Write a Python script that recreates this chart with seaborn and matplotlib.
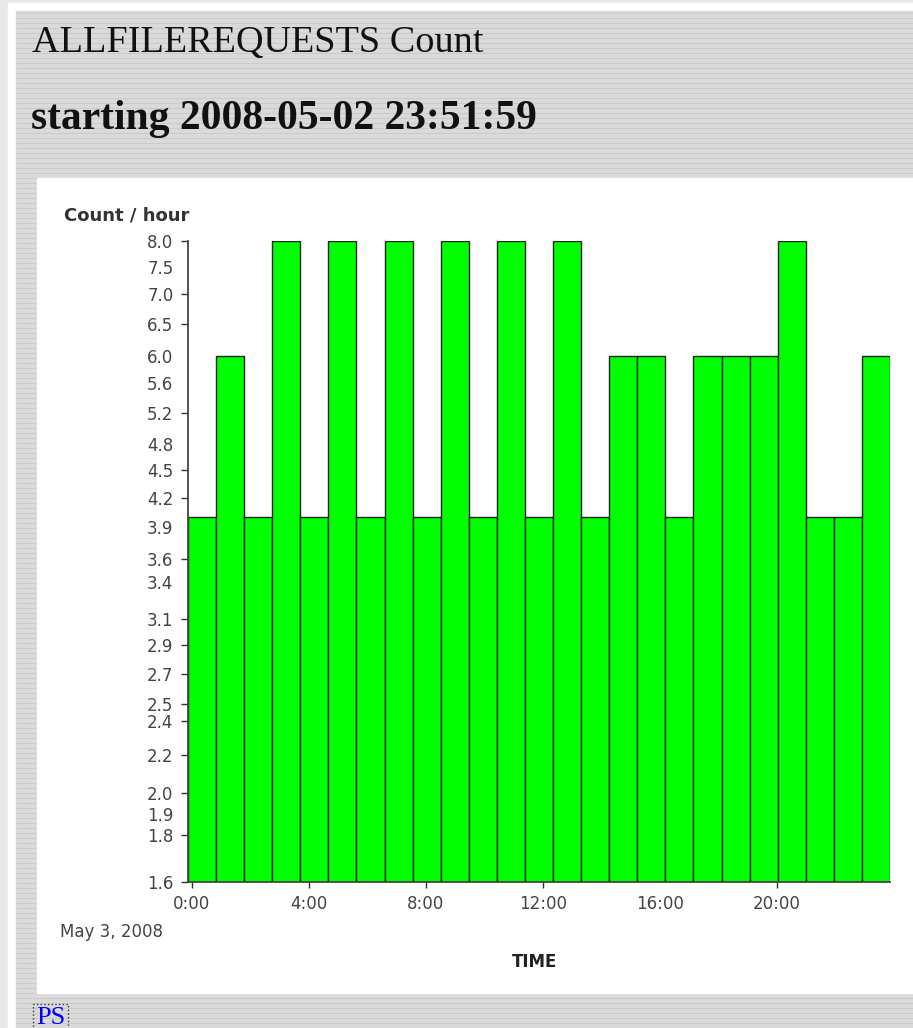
import matplotlib

matplotlib.use("Agg")
import matplotlib.pyplot as plt
import numpy as np
import pandas as pd
import seaborn as sns
from matplotlib.patches import Rectangle
from matplotlib.ticker import NullLocator

# Request counts per bin, 25 bins over 24 hours from the start time
start_hour = -(8 * 60 - 1) / 3600  # 23:51:59 on May 2, hours from midnight May 3
span_hours = 24
counts = [4, 6, 4, 8, 4, 8, 4, 8, 4, 8, 4, 8, 4, 8, 4, 6, 6, 4, 6, 6, 6, 8, 4, 4, 6]

x_tick_hours = [0, 4, 8, 12, 16, 20]
x_tick_labels = ["0:00", "4:00", "8:00", "12:00", "16:00", "20:00"]
# y ticks drawn with a mark, and the ones that only carry a label
y_marked = [8.0, 7.0, 6.5, 5.2, 4.5, 4.2, 3.6, 3.1, 2.9, 2.7, 2.5, 2.4, 2.2, 2.0, 1.8, 1.6]
y_unmarked = [7.5, 6.0, 5.6, 4.8, 3.9, 3.4, 1.9]

title = "ALLFILEREQUESTS Count"
subtitle = "starting 2008-05-02 23:51:59"

n_bins = len(counts)
bin_w = span_hours / n_bins
df = pd.DataFrame(
    {"hour": start_hour + (np.arange(n_bins) + 0.5) * bin_w, "count": counts}
)

sns.set_style("ticks")
plt.rcParams["font.family"] = ["DejaVu Sans"]

fig = plt.figure(figsize=(9.13, 10.28), dpi=100)
fig.patch.set_facecolor("#e8e8e8")

# page background in pixel coords
bg = fig.add_axes([0, 0, 1, 1])
bg.set_zorder(-1)
bg.set_xlim(0, 913)
bg.set_ylim(1028, 0)
bg.axis("off")
bg.add_patch(Rectangle((0, 0), 913, 1028, color="#e8e8e8", zorder=0))
bg.add_patch(Rectangle((8, 3), 905, 1025, color="white", zorder=1))
bg.add_patch(Rectangle((16, 11), 897, 1017, color="#dadada", zorder=2))
bg.hlines(np.arange(13, 1028, 5), 16, 913, color="#cbcbcb", lw=0.8, zorder=3)
bg.add_patch(Rectangle((37, 178), 876, 815, color="white", zorder=4))

serif = ["Liberation Serif", "DejaVu Serif"]
bg.text(32, 52, title, fontfamily=serif, fontsize=27.5, color="#111111",
        va="baseline", zorder=5)
bg.text(31, 129, subtitle, fontfamily=serif, fontsize=30, fontweight="bold",
        color="#111111", va="baseline", zorder=5)
bg.text(64, 220, "Count / hour", fontsize=13, fontweight="bold", color="#333333",
        va="baseline", zorder=5)
bg.text(60, 937, "May 3, 2008", fontsize=12, color="#444444", va="baseline", zorder=5)
bg.text(512, 967, "TIME", fontsize=12, fontweight="bold", color="#222222",
        va="baseline", zorder=5)
bg.text(36, 1024, "PS", fontfamily=serif, fontsize=19, color="#0000ff",
        va="baseline", zorder=5,
        bbox=dict(boxstyle="square,pad=0.12", fc="none", ec="#333333", ls=":", lw=1))

# chart
ax = fig.add_axes([188 / 913, (1028 - 882) / 1028, 702 / 913, 641 / 1028])
ax.patch.set_alpha(0)
sns.histplot(
    data=df, x="hour", weights="count", bins=n_bins,
    binrange=(start_hour, start_hour + span_hours),
    color="#00ff00", edgecolor="#222222", linewidth=1.0, alpha=1, ax=ax,
)
ax.set_yscale("log")
ax.set_ylim(1.6, 8.0)
ax.set_xlim(start_hour, start_hour + span_hours)
ax.set_xlabel("")
ax.set_ylabel("")

ax.set_yticks(y_marked, labels=[f"{v:.1f}" for v in y_marked])
ax.set_yticks(y_unmarked, labels=[f"{v:.1f}" for v in y_unmarked], minor=True)
ax.set_xticks(x_tick_hours, labels=x_tick_labels)
ax.xaxis.set_minor_locator(NullLocator())
ax.xaxis.get_major_ticks()[4].tick1line.set_visible(False)

ax.tick_params(axis="y", which="major", length=5, width=1, color="#333333",
               pad=5.5, labelsize=12, labelcolor="#444444")
ax.tick_params(axis="y", which="minor", length=0, pad=10.5, labelsize=12,
               labelcolor="#444444")
ax.tick_params(axis="x", length=4.5, width=1, color="#333333", pad=5,
               labelsize=12, labelcolor="#444444")

sns.despine(ax=ax)
for side in ["left", "bottom"]:
    ax.spines[side].set_color("#444444")
    ax.spines[side].set_linewidth(1.3)

fig.savefig("out.png", dpi=100)
